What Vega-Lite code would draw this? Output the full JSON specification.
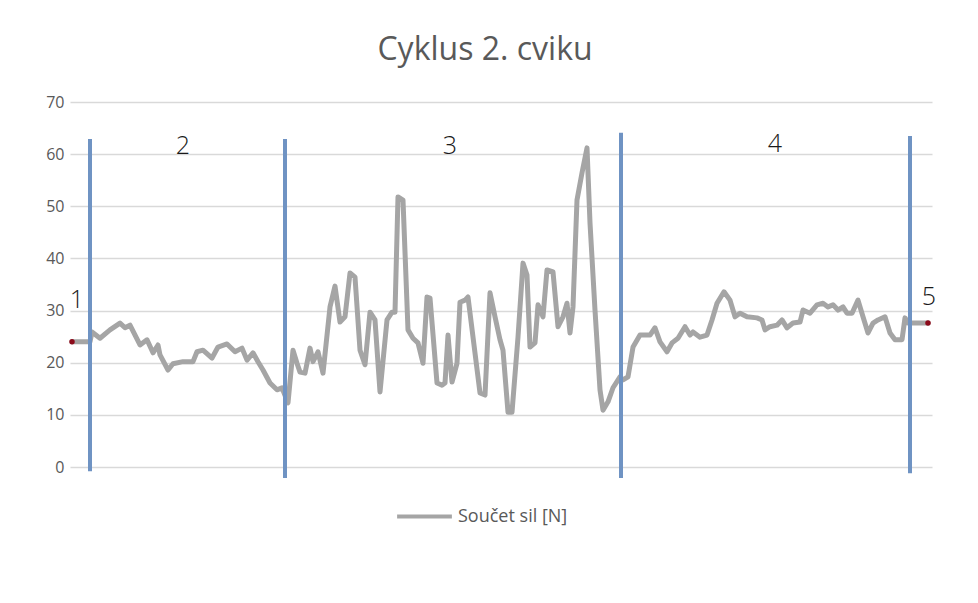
{
  "$schema": "https://vega.github.io/schema/vega-lite/v6.json",
  "width": 862,
  "height": 365,
  "autosize": {"type": "none"},
  "padding": {"left": 70, "top": 102, "right": 46, "bottom": 136},
  "background": "white",
  "config": {
    "view": {"stroke": null},
    "font": "Open Sans"
  },
  "title": {
    "text": "Cyklus 2. cviku",
    "fontSize": 32,
    "fontWeight": "normal",
    "color": "#595959",
    "anchor": "middle",
    "offset": 27,
    "dx": -16
  },
  "datasets": {
    "force": [
      {"t": 2, "v": 24.0}, {"t": 20, "v": 24.0}, {"t": 22, "v": 25.9}, {"t": 30, "v": 24.7}, {"t": 40, "v": 26.3},
      {"t": 50, "v": 27.6}, {"t": 55, "v": 26.7}, {"t": 60, "v": 27.2}, {"t": 70, "v": 23.4}, {"t": 77, "v": 24.4},
      {"t": 83, "v": 21.9}, {"t": 88, "v": 23.4}, {"t": 90, "v": 21.5}, {"t": 98, "v": 18.6}, {"t": 103, "v": 19.8},
      {"t": 113, "v": 20.2}, {"t": 123, "v": 20.2}, {"t": 127, "v": 22.1}, {"t": 133, "v": 22.4}, {"t": 142, "v": 20.9},
      {"t": 148, "v": 23.0}, {"t": 157, "v": 23.6}, {"t": 165, "v": 22.1}, {"t": 172, "v": 22.8}, {"t": 177, "v": 20.5},
      {"t": 183, "v": 21.9}, {"t": 188, "v": 20.2}, {"t": 193, "v": 18.6}, {"t": 200, "v": 16.1}, {"t": 207, "v": 14.8},
      {"t": 212, "v": 15.2}, {"t": 218, "v": 12.3}, {"t": 223, "v": 22.4}, {"t": 227, "v": 19.9}, {"t": 230, "v": 18.2},
      {"t": 235, "v": 18.0}, {"t": 240, "v": 22.8}, {"t": 243, "v": 20.2}, {"t": 248, "v": 22.1}, {"t": 253, "v": 18.0},
      {"t": 260, "v": 30.7}, {"t": 265, "v": 34.7}, {"t": 270, "v": 27.8}, {"t": 275, "v": 28.8}, {"t": 280, "v": 37.2},
      {"t": 285, "v": 36.4}, {"t": 290, "v": 22.4}, {"t": 295, "v": 19.6}, {"t": 300, "v": 29.7}, {"t": 305, "v": 28.2},
      {"t": 310, "v": 14.4}, {"t": 317, "v": 28.2}, {"t": 322, "v": 29.7}, {"t": 325, "v": 29.7}, {"t": 328, "v": 51.8},
      {"t": 333, "v": 51.2}, {"t": 338, "v": 26.3}, {"t": 343, "v": 24.7}, {"t": 348, "v": 23.8}, {"t": 353, "v": 19.9},
      {"t": 357, "v": 32.6}, {"t": 360, "v": 32.4}, {"t": 367, "v": 16.1}, {"t": 372, "v": 15.7}, {"t": 375, "v": 16.1},
      {"t": 378, "v": 25.3}, {"t": 382, "v": 16.3}, {"t": 387, "v": 19.9}, {"t": 390, "v": 31.6}, {"t": 395, "v": 32.0},
      {"t": 398, "v": 32.6}, {"t": 410, "v": 14.2}, {"t": 415, "v": 13.8}, {"t": 420, "v": 33.4}, {"t": 425, "v": 28.8},
      {"t": 430, "v": 24.4}, {"t": 433, "v": 22.4}, {"t": 438, "v": 10.5}, {"t": 442, "v": 10.5}, {"t": 448, "v": 24.9},
      {"t": 453, "v": 39.1}, {"t": 457, "v": 36.8}, {"t": 460, "v": 23.0}, {"t": 465, "v": 23.8}, {"t": 468, "v": 31.1},
      {"t": 473, "v": 28.8}, {"t": 477, "v": 37.8}, {"t": 483, "v": 37.4}, {"t": 488, "v": 26.9}, {"t": 493, "v": 28.8},
      {"t": 497, "v": 31.4}, {"t": 500, "v": 25.7}, {"t": 503, "v": 30.7}, {"t": 507, "v": 51.2}, {"t": 512, "v": 56.4},
      {"t": 517, "v": 61.2}, {"t": 520, "v": 46.8}, {"t": 525, "v": 30.1}, {"t": 530, "v": 14.8}, {"t": 533, "v": 10.9},
      {"t": 538, "v": 12.5}, {"t": 543, "v": 15.2}, {"t": 550, "v": 17.3}, {"t": 553, "v": 16.7}, {"t": 558, "v": 17.3},
      {"t": 563, "v": 23.0}, {"t": 570, "v": 25.3}, {"t": 580, "v": 25.3}, {"t": 585, "v": 26.7}, {"t": 590, "v": 24.0},
      {"t": 597, "v": 22.1}, {"t": 602, "v": 23.8}, {"t": 608, "v": 24.7}, {"t": 615, "v": 26.9}, {"t": 620, "v": 25.3},
      {"t": 623, "v": 25.9}, {"t": 630, "v": 24.9}, {"t": 637, "v": 25.3}, {"t": 642, "v": 28.2}, {"t": 647, "v": 31.4},
      {"t": 654, "v": 33.6}, {"t": 660, "v": 32.0}, {"t": 665, "v": 28.8}, {"t": 670, "v": 29.5}, {"t": 677, "v": 28.8},
      {"t": 687, "v": 28.6}, {"t": 692, "v": 28.2}, {"t": 695, "v": 26.3}, {"t": 700, "v": 26.9}, {"t": 707, "v": 27.2},
      {"t": 712, "v": 28.2}, {"t": 717, "v": 26.7}, {"t": 723, "v": 27.6}, {"t": 730, "v": 27.8}, {"t": 733, "v": 30.1},
      {"t": 740, "v": 29.5}, {"t": 747, "v": 31.1}, {"t": 753, "v": 31.4}, {"t": 758, "v": 30.7}, {"t": 763, "v": 31.1},
      {"t": 768, "v": 30.1}, {"t": 773, "v": 30.7}, {"t": 777, "v": 29.5}, {"t": 782, "v": 29.5}, {"t": 788, "v": 32.0},
      {"t": 793, "v": 28.8}, {"t": 798, "v": 25.7}, {"t": 803, "v": 27.6}, {"t": 808, "v": 28.2}, {"t": 815, "v": 28.8},
      {"t": 820, "v": 25.7}, {"t": 825, "v": 24.4}, {"t": 832, "v": 24.4}, {"t": 835, "v": 28.6}, {"t": 838, "v": 27.6},
      {"t": 858, "v": 27.6}
    ],
    "dividers": [
      {"t": 20, "top": 62.9, "bottom": -0.8},
      {"t": 215, "top": 62.9, "bottom": -2.1},
      {"t": 551, "top": 64.1, "bottom": -2.1},
      {"t": 840, "top": 63.5, "bottom": -1.2}
    ],
    "ends": [
      {"t": 2, "v": 24.0},
      {"t": 858, "v": 27.6}
    ],
    "labels": [
      {"t": 7, "v": 32.0, "label": "1"},
      {"t": 113, "v": 61.6, "label": "2"},
      {"t": 380, "v": 61.6, "label": "3"},
      {"t": 705, "v": 62.0, "label": "4"},
      {"t": 859, "v": 32.6, "label": "5"}
    ]
  },
  "layer": [
    {
      "data": {"name": "force"},
      "mark": {"type": "line", "strokeWidth": 5, "strokeJoin": "round", "strokeCap": "round"},
      "encoding": {
        "x": {"field": "t", "type": "quantitative", "scale": {"domain": [0, 862], "nice": false, "zero": false}, "axis": null},
        "y": {
          "field": "v", "type": "quantitative",
          "scale": {"domain": [0, 70], "nice": false},
          "axis": {
            "title": null, "values": [0, 10, 20, 30, 40, 50, 60, 70],
            "domain": false, "ticks": false, "grid": true, "gridColor": "#d9d9d9", "gridWidth": 1.3,
            "labelColor": "#595959", "labelFontSize": 16, "labelPadding": 6, "labelFont": "Open Sans"
          }
        },
        "color": {
          "datum": "Součet sil [N]",
          "type": "nominal",
          "scale": {"range": ["#a5a5a5"]},
          "legend": {
            "title": null, "orient": "none", "legendX": 325, "legendY": 385,
            "symbolType": "stroke", "symbolStrokeWidth": 4, "symbolSize": 3000,
            "labelFontSize": 18, "labelColor": "#595959", "labelOffset": 4, "labelFont": "Open Sans"
          }
        }
      }
    },
    {
      "data": {"name": "dividers"},
      "mark": {"type": "rule", "strokeWidth": 4, "color": "#6f93c3"},
      "encoding": {
        "x": {"field": "t", "type": "quantitative"},
        "y": {"field": "top", "type": "quantitative"},
        "y2": {"field": "bottom"}
      }
    },
    {
      "data": {"name": "ends"},
      "mark": {"type": "point", "filled": true, "size": 30, "color": "#8b0a1a", "opacity": 1},
      "encoding": {
        "x": {"field": "t", "type": "quantitative"},
        "y": {"field": "v", "type": "quantitative"}
      }
    },
    {
      "data": {"name": "labels"},
      "mark": {"type": "text", "fontSize": 25, "fontWeight": 300, "color": "#1a1a1a", "baseline": "middle", "align": "center", "font": "Open Sans"},
      "encoding": {
        "x": {"field": "t", "type": "quantitative"},
        "y": {"field": "v", "type": "quantitative"},
        "text": {"field": "label"}
      }
    }
  ]
}
